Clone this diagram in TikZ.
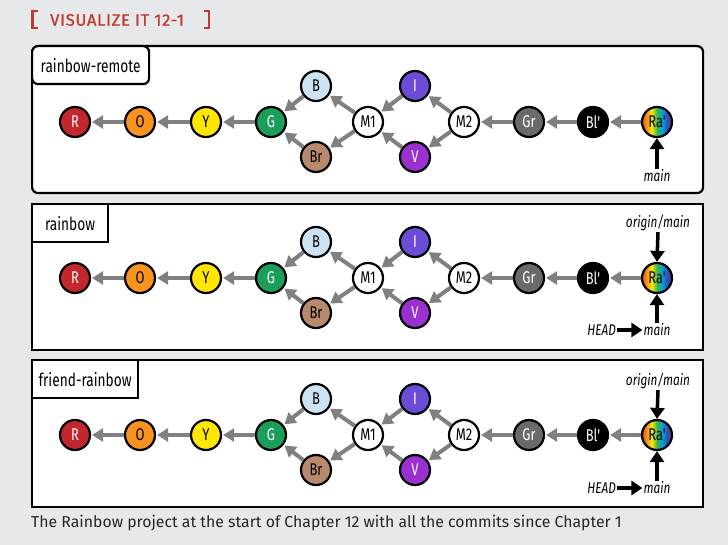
\documentclass[tikz,border=0pt]{standalone}
\usepackage{fontspec}
\setmainfont{Fira Sans}
\newfontfamily\condfont[FakeStretch=0.76]{Fira Sans}
\newfontfamily\titlefont[FakeBold=0.9,LetterSpace=4.5]{Fira Sans}
\usetikzlibrary{arrows.meta}
\definecolor{bg}{RGB}{231,232,234}
\definecolor{titlered}{RGB}{192,57,43}
\definecolor{arrgray}{RGB}{128,128,128}
\definecolor{cR}{RGB}{193,39,45}
\definecolor{cO}{RGB}{247,147,30}
\definecolor{cY}{RGB}{255,230,0}
\definecolor{cG}{RGB}{26,158,90}
\definecolor{cB}{RGB}{204,227,243}
\definecolor{cBr}{RGB}{185,137,110}
\definecolor{cI}{RGB}{108,76,214}
\definecolor{cV}{RGB}{155,48,208}
\definecolor{cGr}{RGB}{105,106,108}
\definecolor{rbA}{RGB}{232,80,30}
\definecolor{rbB}{RGB}{247,148,29}
\definecolor{rbC}{RGB}{255,232,0}
\definecolor{rbD}{RGB}{57,181,74}
\definecolor{rbE}{RGB}{0,160,224}
\definecolor{rbF}{RGB}{46,80,180}
\definecolor{rbG}{RGB}{146,39,143}
\pgfdeclarehorizontalshading{rainbowshade}{100bp}{color(0bp)=(rbA); color(25bp)=(rbA); color(33bp)=(rbB); color(41bp)=(rbC); color(50bp)=(rbD); color(59bp)=(rbE); color(67bp)=(rbF); color(75bp)=(rbG); color(100bp)=(rbG)}
\newcommand\commitgraph[2]{%
  \node[commit,fill=cR,text=white] (#1R) at (75,#2) {R};
  \node[commit,fill=cO] (#1O) at (140,#2) {O};
  \node[commit,fill=cY] (#1Y) at (206,#2) {Y};
  \node[commit,fill=cG,text=white] (#1G) at (271,#2) {G};
  \node[commit,fill=cB] (#1B) at (316,#2-36) {B};
  \node[commit,fill=cBr] (#1Br) at (316,#2+35) {Br};
  \node[commit,fill=white] (#1M1) at (368,#2) {M1};
  \node[commit,fill=cI,text=white] (#1I) at (415,#2-36) {I};
  \node[commit,fill=cV,text=white] (#1V) at (415,#2+35) {V};
  \node[commit,fill=white] (#1M2) at (464,#2) {M2};
  \node[commit,fill=cGr,text=white] (#1Gr) at (529,#2) {Gr};
  \node[commit,fill=black,text=white] (#1Bl) at (593,#2) {Bl'};
  \node[commit,shading=rainbowshade] (#1Ra) at (657,#2) {Ra'};
  \draw[garrow] (#1O) -- (#1R);
  \draw[garrow] (#1Y) -- (#1O);
  \draw[garrow] (#1G) -- (#1Y);
  \draw[garrow] (#1B) -- (#1G);
  \draw[garrow] (#1Br) -- (#1G);
  \draw[garrow] (#1M1) -- (#1B);
  \draw[garrow] (#1M1) -- (#1Br);
  \draw[garrow] (#1I) -- (#1M1);
  \draw[garrow] (#1V) -- (#1M1);
  \draw[garrow] (#1M2) -- (#1I);
  \draw[garrow] (#1M2) -- (#1V);
  \draw[garrow] (#1Gr) -- (#1M2);
  \draw[garrow] (#1Bl) -- (#1Gr);
  \draw[garrow] (#1Ra) -- (#1Bl);
}
\begin{document}
\begin{tikzpicture}[x=1pt,y=-1pt,
  commit/.style={circle,draw=black,line width=2.2pt,minimum size=30pt,inner sep=0pt,
    font=\condfont\fontsize{17}{17}\selectfont},
  garrow/.style={draw=arrgray,line width=4pt,-{Triangle[length=11pt,width=13pt]},shorten >=1pt},
  barrow/.style={draw=black,line width=3.5pt,-{Triangle[length=11pt,width=14pt]},shorten >=0pt},
  panelbox/.style={draw=black,line width=2.2pt,fill=white,anchor=north west,inner sep=0pt},
  labbox/.style={draw=black,line width=2.2pt,fill=white,anchor=north west,inner sep=0pt,
    font=\condfont\fontsize{18}{18}\selectfont},
  ptr/.style={inner sep=1pt,font=\condfont\itshape\fontsize{15.5}{15.5}\selectfont}]
\useasboundingbox (0,0) rectangle (728,545);
\fill[bg] (0,0) rectangle (728,545);
% title
\draw[titlered,line width=2.8pt] (37.5,11) -- (32.5,11) -- (32.5,28) -- (37.5,28);
\draw[titlered,line width=2.8pt] (204,11) -- (209,11) -- (209,28) -- (204,28);
\node[anchor=west,text=titlered,inner sep=0pt,font=\titlefont\fontsize{16.5}{16.5}\selectfont] (title) at (50,20) {VISUALIZE IT 12-1};
% panel 1
\node[panelbox,rounded corners=6pt,minimum width=671pt,minimum height=147pt] (panel1) at (31,45) {};
\node[labbox,rounded corners=6pt,minimum width=117pt,minimum height=38pt] (lab1) at (31,45) {rainbow-remote};
\commitgraph{a}{122}
\node[ptr] (amain) at (657,176) {main};
\draw[barrow] (amain.north) -- (aRa.south);
% panel 2
\node[panelbox,minimum width=671pt,minimum height=146pt] (panel2) at (31,203) {};
\node[labbox,minimum width=76pt,minimum height=38pt] (lab2) at (31,203) {rainbow};
\commitgraph{b}{278}
\node[ptr] (bom) at (658,223) {origin/main};
\draw[barrow] (bom.south) -- (bRa.north);
\node[ptr] (bmain) at (657,330) {main};
\draw[barrow] (bmain.north) -- (bRa.south);
\node[ptr,anchor=east] (bhead) at (617,330) {HEAD};
\draw[barrow] (bhead.east) -- (bmain.west);
% panel 3
\node[panelbox,minimum width=671pt,minimum height=147pt] (panel3) at (31,359) {};
\node[labbox,minimum width=106pt,minimum height=38pt] (lab3) at (31,359) {friend-rainbow};
\commitgraph{c}{435}
\node[ptr] (com) at (658,381) {origin/main};
\draw[barrow] (com.south) -- (cRa.north);
\node[ptr] (cmain) at (657,488) {main};
\draw[barrow] (cmain.north) -- (cRa.south);
\node[ptr,anchor=east] (chead) at (617,488) {HEAD};
\draw[barrow] (chead.east) -- (cmain.west);
% caption
\node[anchor=west,inner sep=0pt,font=\fontsize{15.8}{15.8}\selectfont,text=black!85] (caption) at (31,523) {The Rainbow project at the start of Chapter 12 with all the commits since Chapter 1};
\end{tikzpicture}
\end{document}
